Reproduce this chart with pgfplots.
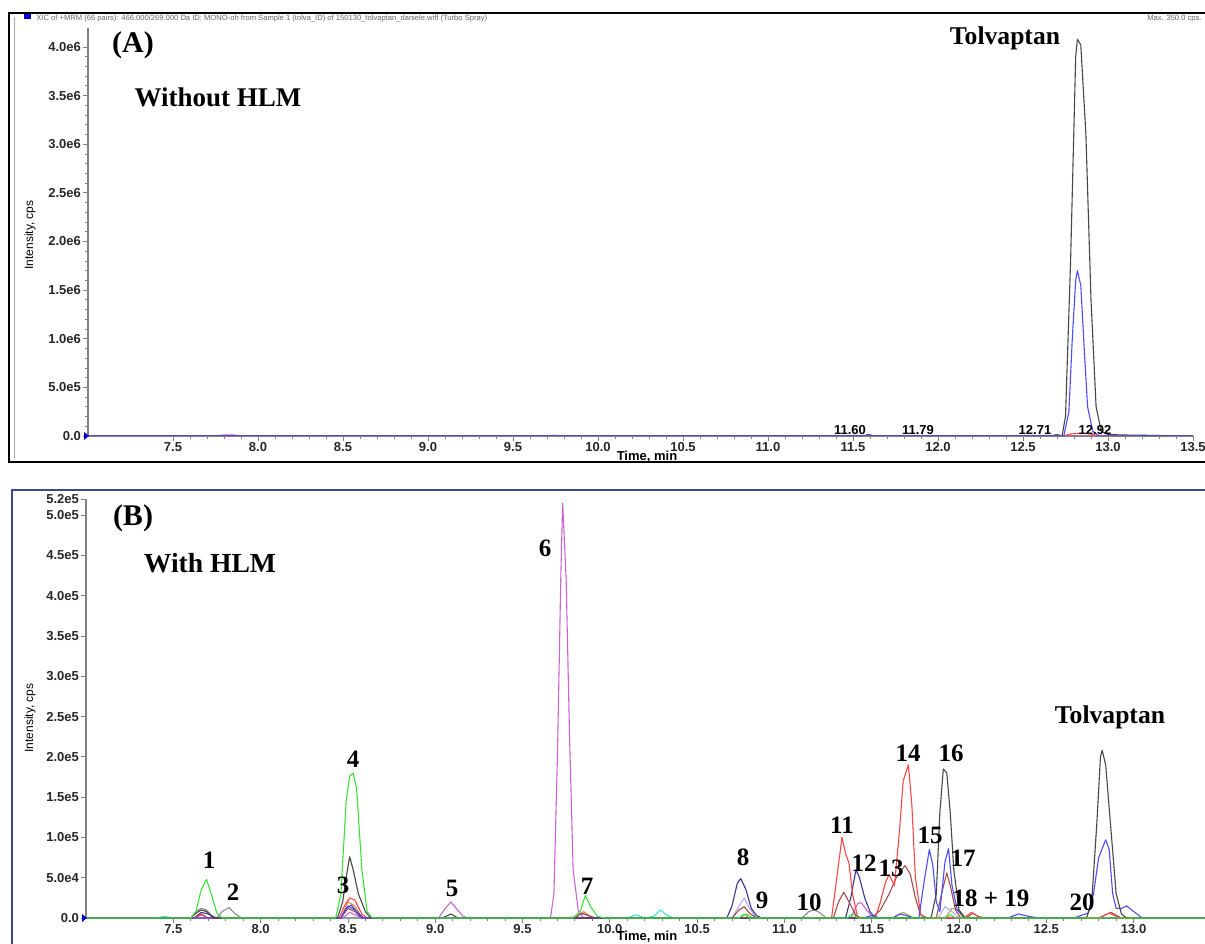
\documentclass[border=0pt]{standalone}
\usepackage{pgfplots}
\pgfplotsset{compat=1.18}
\usepackage{fontspec}
\setmainfont{Liberation Serif}
\newfontfamily\arialf{Liberation Sans}
\definecolor{cgreen}{RGB}{60,225,60}
\definecolor{cblack}{RGB}{70,70,70}
\definecolor{cgray}{RGB}{140,140,140}
\definecolor{cred}{RGB}{250,70,70}
\definecolor{cbrown}{RGB}{165,75,75}
\definecolor{cblue}{RGB}{75,75,250}
\definecolor{cnavy}{RGB}{55,55,140}
\definecolor{cmag}{RGB}{205,100,205}
\definecolor{cpale}{RGB}{175,175,250}
\definecolor{ccyan}{RGB}{70,220,220}
\definecolor{colive}{RGB}{170,170,70}
\definecolor{corange}{RGB}{225,145,70}
\definecolor{axgray}{RGB}{130,130,130}
\definecolor{frameB}{RGB}{60,72,135}
\newcommand{\tl}{\arialf\bfseries\fontsize{6.5}{7}\selectfont}
\newcommand{\lab}{\bfseries\fontsize{12.5}{13}\selectfont}
\pgfplotsset{chrom/.style={
  scale only axis, axis lines*=left,
  axis line style={draw=axgray, line width=0.6pt},
  xmin=7,
  minor x tick num=4, minor y tick num=4,
  tick align=outside,
  major tick length=2.5pt, minor tick length=1.5pt,
  every tick/.style={draw=axgray, line width=0.4pt},
  ticklabel style={font=\tl, text=black!85},
  xticklabel style={yshift=3pt},
  yticklabel style={xshift=2.5pt},
  scaled ticks=false,
  every axis plot/.append style={line width=0.55pt, mark=none, line join=round},
}}
\begin{document}
\begin{tikzpicture}[x=0.5pt,y=0.5pt]
\useasboundingbox (0,0) rectangle (1205,943);
\clip (0,0) rectangle (1205,943);
% ---------------- Panel A ----------------
\draw[black, line width=1.4pt] (9,{943-13}) rectangle (1300,{943-462});
\draw[black!35, line width=0.5pt] (14,{943-17}) -- (14,{943-458});
\fill[blue!80!black] (24,{943-14}) rectangle (31,{943-19});
\node[anchor=west, font=\arialf\fontsize{3.8}{4}\selectfont, text=black!60, inner sep=0] at (36,{943-19}) {XIC of +MRM (66 pairs): 466.000/269.000 Da ID: MONO-oh from Sample 1 (tolva\_ID) of 150130\_tolvaptan\_daniele.wiff (Turbo Spray)};
\node[anchor=east, font=\arialf\fontsize{3.8}{4}\selectfont, text=black!60, inner sep=0] at (1202,{943-19}) {Max. 350.0 cps.};
\begin{axis}[chrom, at={(44pt,253.5pt)}, anchor=south west,
  width=552.5pt, height=204.25pt,
  xmax=13.5, ymin=0, ymax=4.2e6,
  xtick={7.5,8,8.5,9,9.5,10,10.5,11,11.5,12,12.5,13,13.5},
  xticklabels={7.5,8.0,8.5,9.0,9.5,10.0,10.5,11.0,11.5,12.0,12.5,13.0,13.5},
  ytick={0,5e5,1e6,1.5e6,2e6,2.5e6,3e6,3.5e6,4e6},
  yticklabels={0.0,5.0e5,1.0e6,1.5e6,2.0e6,2.5e6,3.0e6,3.5e6,4.0e6}]
\addplot[cmag] coordinates {(7.0,0)(7.76,0)(7.80,1.2e4)(7.86,1.0e4)(7.90,0)(9.70,0)(9.74,8e3)(9.78,0)(13.5,0)};
\addplot[cred] coordinates {(7.0,0)(12.74,0)(12.78,2e4)(12.84,3e4)(12.90,2e4)(12.95,0)(13.5,0)};
\addplot[cblack] coordinates {(7.0,0)(11.56,0)(11.59,1.5e4)(11.63,0)(12.66,0)(12.70,1.5e4)(12.73,0)(12.75,2e5)(12.78,1.8e6)(12.81,3.9e6)(12.82,4.08e6)(12.84,4.02e6)(12.87,3.1e6)(12.90,1.4e6)(12.93,3e5)(12.96,5e4)(13.0,1.5e4)(13.1,1e4)(13.2,8e3)(13.3,5e3)(13.36,0)(13.5,0)};
\addplot[cblue] coordinates {(7.0,0)(12.74,0)(12.77,2.5e5)(12.79,1.0e6)(12.81,1.6e6)(12.82,1.70e6)(12.84,1.55e6)(12.86,9e5)(12.88,3e5)(12.91,5e4)(12.95,0)(13.5,0)};
\end{axis}
\fill[blue!80!black] (84,{943-432}) -- (89,{943-436}) -- (84,{943-440}) -- cycle;
\node[font=\arialf\fontsize{6}{7}\selectfont, rotate=90] at (30,{943-235}) {Intensity, cps};
\node[font=\tl] at (647,{943-457}) {Time, min};
\node[font=\bfseries\fontsize{15}{16}\selectfont] at (133,{943-45}) {(A)};
\node[font=\bfseries\fontsize{13.5}{14}\selectfont] at (218,{943-97}) {Without HLM};
\node[font=\bfseries\fontsize{12.8}{13}\selectfont] at (1005,{943-38}) {Tolvaptan};
\node[font=\tl] at (850,{943-430}) {11.60};
\node[font=\tl] at (918,{943-430}) {11.79};
\node[font=\tl] at (1035,{943-430}) {12.71};
\node[font=\tl] at (1095,{943-430}) {12.92};
% ---------------- Panel B ----------------
\draw[frameB, line width=1.1pt] (12,{943-490}) rectangle (1300,-60);
\begin{axis}[chrom, at={(43pt,12.5pt)}, anchor=south west,
  width=559.6pt, height=209.5pt,
  xmax=13.41, ymin=0, ymax=5.2e5,
  xtick={7.5,8,8.5,9,9.5,10,10.5,11,11.5,12,12.5,13},
  xticklabels={7.5,8.0,8.5,9.0,9.5,10.0,10.5,11.0,11.5,12.0,12.5,13.0},
  ytick={0,5e4,1e5,1.5e5,2e5,2.5e5,3e5,3.5e5,4e5,4.5e5,5e5,5.2e5},
  yticklabels={0.0,5.0e4,1.0e5,1.5e5,2.0e5,2.5e5,3.0e5,3.5e5,4.0e5,4.5e5,5.0e5,5.2e5}]
\addplot[ccyan] coordinates {(7.0,0)(7.40,0)(7.45,2e3)(7.5,0)(10.10,0)(10.15,4e3)(10.20,0)(10.25,2e3)(10.29,1.0e4)(10.33,3e3)(10.37,0)(13.41,0)};
\addplot[colive] coordinates {(7.0,0)(10.74,0)(10.78,5e3)(10.82,0)(11.62,0)(11.68,7e3)(11.74,0)(11.92,0)(11.96,1.2e4)(12.0,1.0e4)(12.04,0)(13.41,0)};
\addplot[cpale] coordinates {(7.0,0)(9.78,0)(9.82,5e3)(9.86,4e3)(9.90,0)(10.70,0)(10.74,1.5e4)(10.77,2.5e4)(10.80,1.2e4)(10.84,0)(11.88,0)(11.92,1.4e4)(11.96,8e3)(12.0,0)(13.41,0)};
\addplot[corange] coordinates {(7.0,0)(8.46,0)(8.50,2.0e4)(8.54,1.5e4)(8.58,0)(9.80,0)(9.85,8e3)(9.90,0)(13.41,0)};
\addplot[cgray] coordinates {(7.0,0)(7.60,0)(7.63,8e3)(7.66,1.2e4)(7.69,1.0e4)(7.72,3e3)(7.75,0)(7.78,8e3)(7.82,1.3e4)(7.85,6e3)(7.89,0)(11.10,0)(11.14,8e3)(11.17,1.0e4)(11.20,7e3)(11.24,0)(13.41,0)};
\addplot[cmag] coordinates {(7.0,0)(8.47,0)(8.51,7e3)(8.55,3e3)(8.58,0)(9.02,0)(9.05,1e4)(9.09,2.0e4)(9.12,1.2e4)(9.16,2e3)(9.19,0)(9.66,0)(9.68,3e4)(9.70,2.0e5)(9.72,4.3e5)(9.73,5.15e5)(9.75,4.2e5)(9.77,2.2e5)(9.79,6e4)(9.82,8e3)(9.85,0)(11.38,0)(11.42,1.8e4)(11.44,1.9e4)(11.47,1e4)(11.51,0)(13.41,0)};
\addplot[cnavy] coordinates {(7.0,0)(7.62,0)(7.66,7e3)(7.70,5e3)(7.74,0)(8.46,0)(8.49,1.2e4)(8.52,1.6e4)(8.55,8e3)(8.59,0)(10.67,0)(10.70,1.5e4)(10.73,4.3e4)(10.75,4.9e4)(10.78,3.5e4)(10.81,1.2e4)(10.84,3e3)(10.87,0)(11.35,0)(11.38,2.5e4)(11.41,6.0e4)(11.43,5e4)(11.46,2.5e4)(11.49,8e3)(11.52,0)(13.41,0)};
\addplot[cbrown] coordinates {(7.0,0)(7.62,0)(7.66,5e3)(7.70,0)(8.46,0)(8.50,1.2e4)(8.54,8e3)(8.58,0)(9.80,0)(9.84,6e3)(9.88,3e3)(9.92,0)(10.70,0)(10.74,1.0e4)(10.77,1.4e4)(10.80,6e3)(10.84,0)(11.28,0)(11.31,2e4)(11.34,3.2e4)(11.37,2e4)(11.41,3e3)(11.44,0)(11.50,0)(11.55,1e4)(11.60,3e4)(11.64,5e4)(11.69,6.5e4)(11.72,5.5e4)(11.75,2.5e4)(11.78,4e3)(11.82,0)(11.87,0)(11.90,3e4)(11.93,5.6e4)(11.95,4e4)(11.98,1e4)(12.01,0)(12.04,0)(12.08,6e3)(12.12,0)(12.80,0)(12.87,7e3)(12.93,0)(13.41,0)};
\addplot[cred] coordinates {(7.0,0)(7.62,0)(7.66,4e3)(7.70,0)(8.45,0)(8.48,1.5e4)(8.51,2.5e4)(8.54,2.2e4)(8.58,5e3)(8.61,0)(11.27,0)(11.30,5e4)(11.33,1.0e5)(11.35,8e4)(11.37,6.8e4)(11.39,3e4)(11.42,0)(11.52,0)(11.55,2e4)(11.58,4.5e4)(11.60,5.4e4)(11.63,4.0e4)(11.66,1.1e5)(11.68,1.7e5)(11.71,1.9e5)(11.73,1.4e5)(11.75,5e4)(11.78,5e3)(11.80,0)(12.03,0)(12.07,7e3)(12.11,2e3)(12.15,0)(12.80,0)(12.86,6e3)(12.92,0)(13.41,0)};
\addplot[cblue] coordinates {(7.0,0)(8.46,0)(8.50,1.5e4)(8.54,1.0e4)(8.58,0)(11.45,0)(11.50,3e3)(11.55,0)(11.62,0)(11.66,5e3)(11.70,3e3)(11.74,0)(11.77,0)(11.80,4.5e4)(11.83,8.5e4)(11.85,6.5e4)(11.87,2e4)(11.89,8e3)(11.92,7e4)(11.94,8.6e4)(11.96,4e4)(11.99,1e4)(12.03,0)(12.28,0)(12.34,5e3)(12.40,2e3)(12.46,0)(12.66,0)(12.71,4e3)(12.74,6e3)(12.77,3e4)(12.80,7.5e4)(12.84,9.7e4)(12.86,8.5e4)(12.88,3e4)(12.90,1.2e4)(12.93,1.2e4)(12.96,1.5e4)(13.00,8e3)(13.05,0)(13.41,0)};
\addplot[cblack] coordinates {(7.0,0)(7.60,0)(7.63,6e3)(7.66,1.0e4)(7.69,8e3)(7.73,0)(8.44,0)(8.47,2e4)(8.49,5e4)(8.51,7.6e4)(8.53,6e4)(8.56,3e4)(8.60,8e3)(8.63,0)(9.04,0)(9.09,5e3)(9.13,0)(11.84,0)(11.87,3e4)(11.89,1.3e5)(11.91,1.85e5)(11.93,1.80e5)(11.95,1.3e5)(11.97,6e4)(12.00,1e4)(12.03,0)(12.73,0)(12.76,2e4)(12.79,1.2e5)(12.81,2.0e5)(12.82,2.08e5)(12.84,1.9e5)(12.87,1.1e5)(12.90,3e4)(12.93,5e3)(12.96,0)(13.41,0)};
\addplot[cgreen] coordinates {(7.0,0)(7.60,0)(7.63,8e3)(7.66,3.5e4)(7.69,4.8e4)(7.72,2.8e4)(7.75,6e3)(7.78,0)(8.43,0)(8.46,3e4)(8.49,1.45e5)(8.51,1.76e5)(8.53,1.80e5)(8.55,1.6e5)(8.58,6e4)(8.61,8e3)(8.64,0)(9.79,0)(9.83,8e3)(9.86,2.8e4)(9.89,1.4e4)(9.93,2e3)(9.97,0)(10.74,0)(10.77,5e3)(10.80,0)(11.36,0)(11.39,5e3)(11.42,0)(11.92,0)(11.95,4e3)(11.98,0)(13.41,0)};
\end{axis}
\fill[blue!80!black] (82,{943-914}) -- (87,{943-918}) -- (82,{943-922}) -- cycle;
\node[font=\arialf\fontsize{6}{7}\selectfont, rotate=90] at (30,{943-718}) {Intensity, cps};
\node[font=\tl] at (647,{943-937}) {Time, min};
\node[font=\bfseries\fontsize{15}{16}\selectfont] at (133,{943-518}) {(B)};
\node[font=\bfseries\fontsize{13.8}{14}\selectfont] at (210,{943-563}) {With HLM};
\node[font=\bfseries\fontsize{12.8}{13}\selectfont] at (1110,{943-717}) {Tolvaptan};
\node[font=\lab] at (209,{943-860}) {1};
\node[font=\lab] at (233,{943-892}) {2};
\node[font=\lab] at (343,{943-885}) {3};
\node[font=\lab] at (353,{943-759}) {4};
\node[font=\lab] at (452,{943-888}) {5};
\node[font=\lab] at (545,{943-548}) {6};
\node[font=\lab] at (587,{943-886}) {7};
\node[font=\lab] at (743,{943-857}) {8};
\node[font=\lab] at (762,{943-900}) {9};
\node[font=\lab] at (809,{943-902}) {10};
\node[font=\lab] at (842,{943-825}) {11};
\node[font=\lab] at (864,{943-863}) {12};
\node[font=\lab] at (891,{943-868}) {13};
\node[font=\lab] at (908,{943-753}) {14};
\node[font=\lab] at (930,{943-835}) {15};
\node[font=\lab] at (951,{943-753}) {16};
\node[font=\lab] at (963,{943-858}) {17};
\node[font=\lab] at (991,{943-898}) {18 + 19};
\node[font=\lab] at (1082,{943-902}) {20};
\end{tikzpicture}
\end{document}
